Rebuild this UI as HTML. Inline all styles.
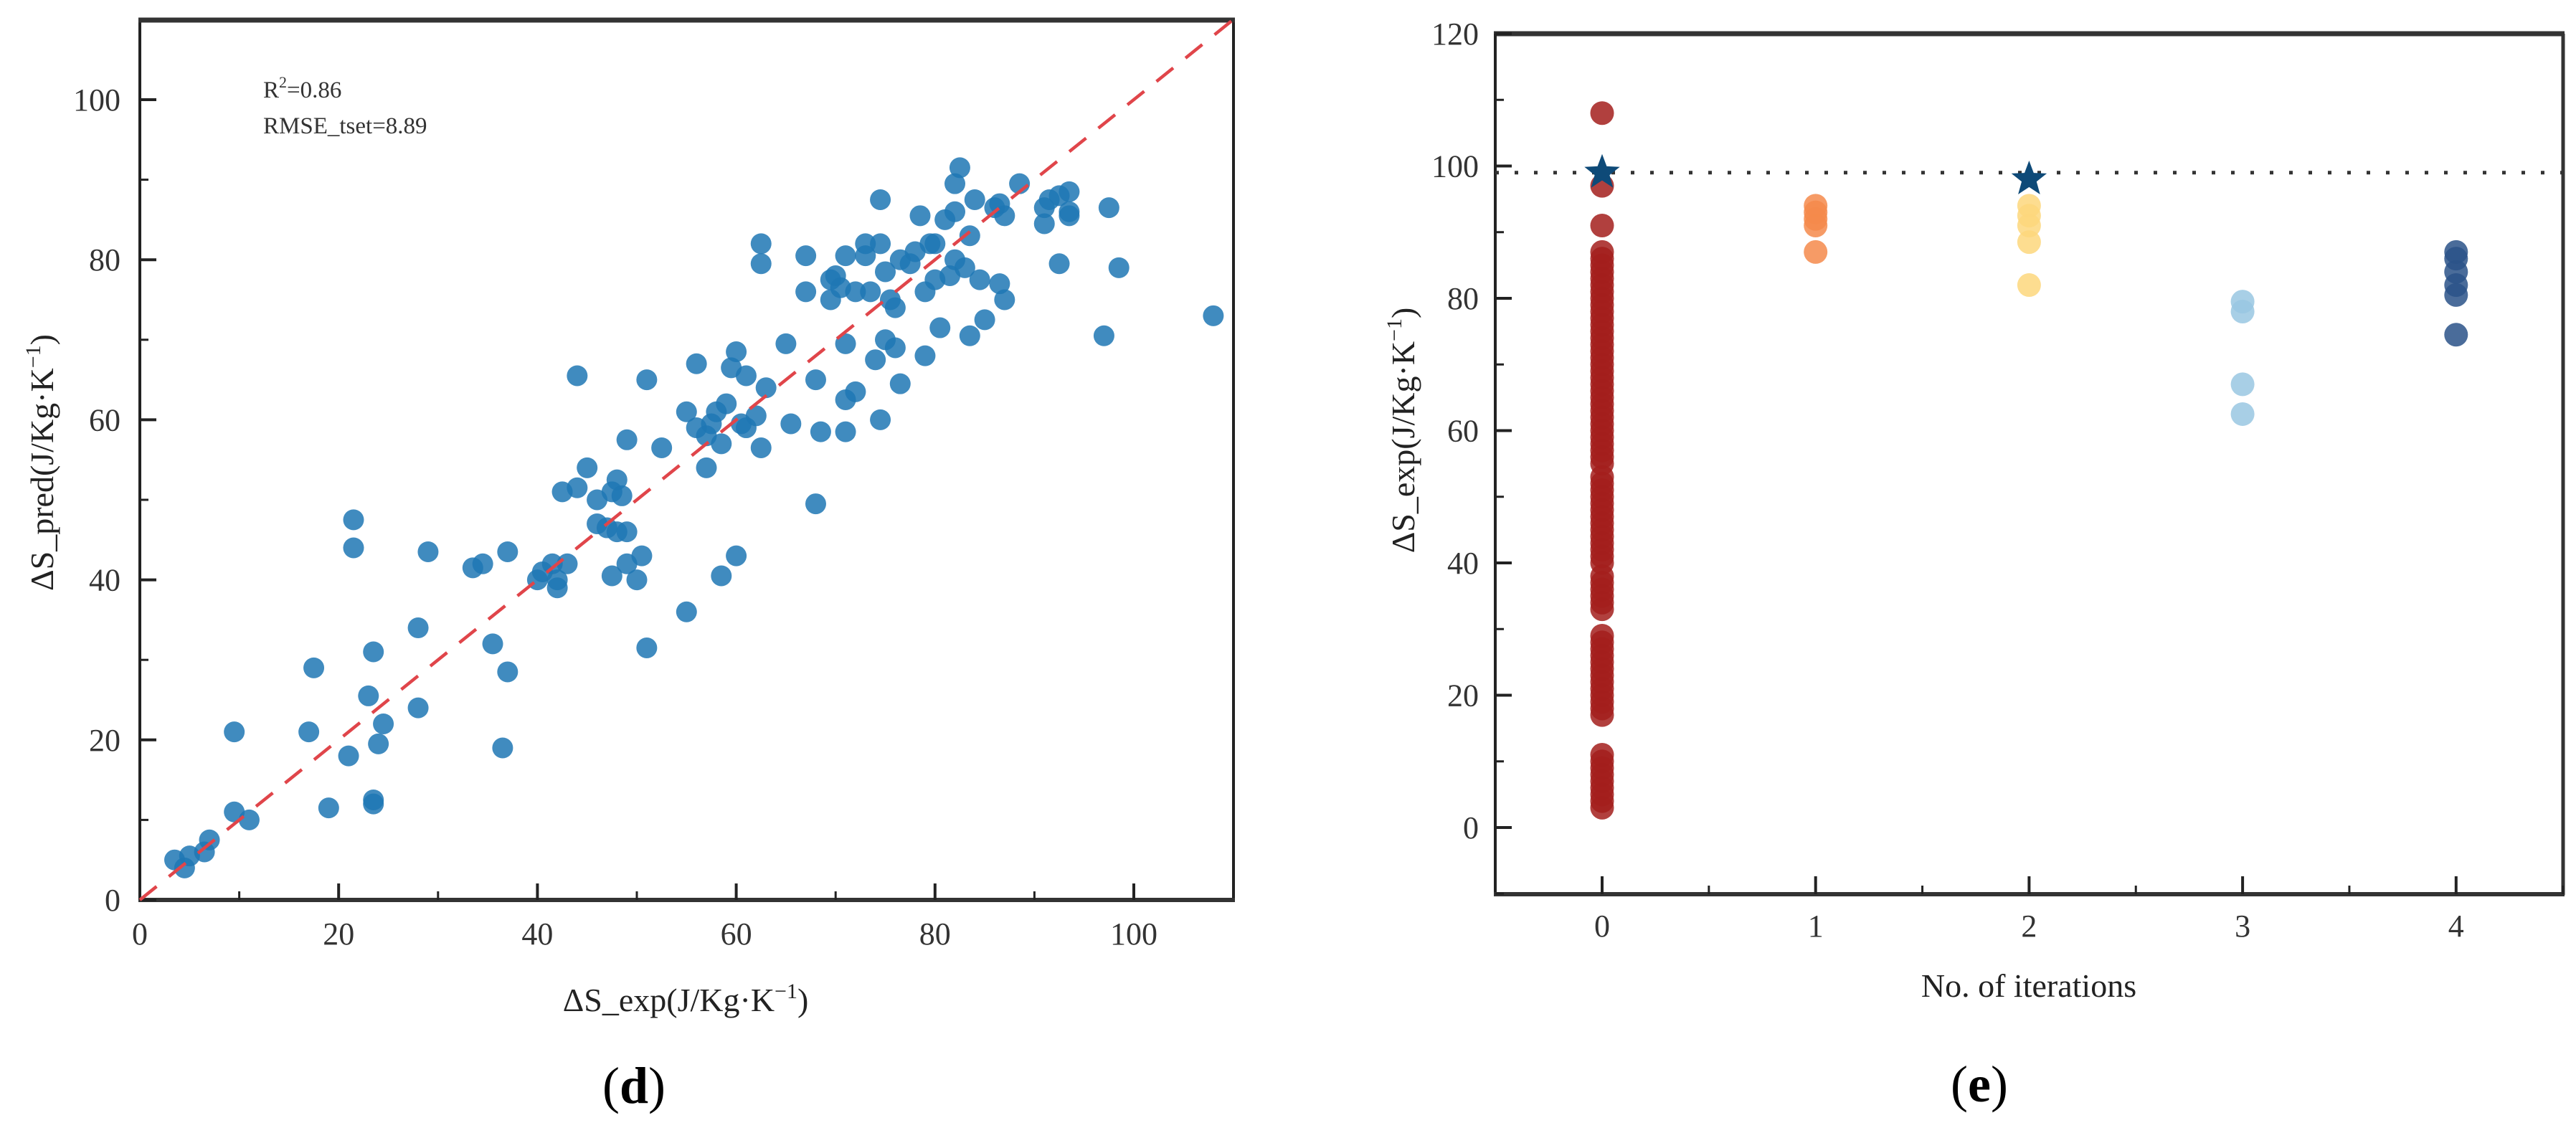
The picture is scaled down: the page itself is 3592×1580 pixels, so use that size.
<!DOCTYPE html>
<html><head><meta charset="utf-8"><style>
html,body{margin:0;padding:0;background:#fff;}
svg{display:block;font-family:"Liberation Serif",serif;}
</style></head><body>
<svg id="fig" width="3592" height="1580" viewBox="0 0 3592 1580" xmlns="http://www.w3.org/2000/svg">
<rect x="0" y="0" width="3592" height="1580" fill="#fff"/>
<g id="left"></g>
<g id="right"></g>
</svg>
<script>
// ---------- Panel d data ----------
const expVals = [3.5,4.5,5,6.5,7,9.5,9.5,11,17,17.5,19,21,21.5,21.5,23,23.5,23.5,23.5,24,24.5,28,28,29,33.5,34.5,35.5,36.5,37,37,40,40.5,41.5,42,42,42.5,43,44,44,45,46,46,47,47.5,47.5,48,48,48.5,49,49,49,50,50.5,51,51,52.5,55,55,56,56,57,57,57.5,58,58.5,58.5,59,59.5,60,60,60.5,61,61,62,62.5,62.5,62.5,63,65,65.5,67,67,68,68,68.5,69.5,69.5,70,70.5,71,71,71,71,72,72,73,73,73.5,74,74.5,74.5,74.5,75,75,75.5,76,76,76.5,76.5,77.5,78,78.5,79,79,79.5,80,80,80.5,81,81.5,82,82,82,82.5,83,83.5,83.5,84,84.5,85,86,86.5,86.5,87,87,88.5,91,91,91.5,92.5,92.5,93.5,93.5,93.5,97,97.5,98.5,108];
const predVals = [5,4,5.5,6,7.5,21,11,10,21,29,11.5,18,44,47.5,25.5,12.5,12,31,19.5,22,34,24,43.5,41.5,42,32,19,28.5,43.5,40,41,42,40,39,51,42,51.5,65.5,54,47,50,46.5,51,40.5,52.5,46,50.5,46,42,57.5,40,43,31.5,65,56.5,36,61,59,67,54,58,59.5,61,57,40.5,62,66.5,43,68.5,59.5,59,65.5,60.5,56.5,79.5,82,64,69.5,59.5,76,80.5,65,49.5,58.5,75,77.5,78,76.5,80.5,69.5,62.5,58.5,63.5,76,82,80.5,76,67.5,60,87.5,82,70,78.5,75,69,74,80,64.5,79.5,81,85.5,68,76,82,77.5,82,71.5,85,78,86,80,89.5,91.5,79,83,70.5,87.5,77.5,72.5,86.5,87,77,85.5,75,89.5,84.5,86.5,87.5,88,79.5,88.5,85.5,86,70.5,86.5,79,73];
const dTicks = [0,20,40,60,80,100];
const dMinor = [10,30,50,70,90];

// ---------- Panel e data ----------
const iterCats = [0,1,2,3,4];
const iter0 = [3,4,5,6,7,8,9,10,11,17,18,19,20,21,22,23,24,25,26,27,28,29,33,34,35,36,37,38,40,41,42,43,44,45,46,47,48,49,50,51,52,53,55,56,57,58,59,60,61,62,63,64,65,66,67,68,69,70,71,72,73,74,75,76,77,78,79,80,81,82,83,84,85,86,87,91,97,108];
const iter1 = [87,91,92,93,94];
const iter2 = [82,88.5,91,92.5,94];
const iter3 = [62.5,67,78,79.5];
const iter4 = [74.5,80.5,82,84,86,87];
const iterColors = ['#a31f1c','#f58a4b','#fdd77c','#99c7e2','#2a5288'];
const bestVals = [[0,99],[2,98]];
const refLine = 99;
const eTicks = [0,20,40,60,80,100,120];

const NS = 'http://www.w3.org/2000/svg';
function mk(parent, tag, attrs, text){
  const e = document.createElementNS(NS, tag);
  for (const k in attrs) e.setAttribute(k, attrs[k]);
  if (text !== undefined) e.textContent = text;
  parent.appendChild(e); return e;
}

// ----- Panel d -----
const L = document.getElementById('left');
const dx = v => 195 + v * 13.86;
const dy = v => 1255 - v * 11.16;
// frame
const fr = mk(L,'rect',{x:195,y:28,width:1525,height:1227,fill:'none',stroke:'#222','stroke-width':4});


let t = mk(L,'line',{x1:193,y1:28,x2:1722,y2:28,stroke:'#333','stroke-width':7});


t = mk(L,'line',{x1:193,y1:1255,x2:1722,y2:1255,stroke:'#333','stroke-width':6});


// ticks
dTicks.forEach(v=>{
  let a = mk(L,'line',{x1:dx(v),y1:1255,x2:dx(v),y2:1232,stroke:'#222','stroke-width':4});
  
  
  a = mk(L,'text',{x:dx(v),y:1317,'font-size':44,'text-anchor':'middle',fill:'#333'},String(v));
  
  
  a = mk(L,'line',{x1:195,y1:dy(v),x2:218,y2:dy(v),stroke:'#222','stroke-width':4});
  
  
  a = mk(L,'text',{x:168,y:dy(v)+15,'font-size':44,'text-anchor':'end',fill:'#333'},String(v));
  
  
});
dMinor.forEach(v=>{
  let a = mk(L,'line',{x1:dx(v),y1:1255,x2:dx(v),y2:1243,stroke:'#222','stroke-width':3});
  
  
  a = mk(L,'line',{x1:195,y1:dy(v),x2:207,y2:dy(v),stroke:'#222','stroke-width':3});
  
  
});
// points
expVals.forEach((v,i)=>{
  const c = mk(L,'circle',{cx:dx(v),cy:dy(predVals[i]),r:14.5,fill:'#1f77b4','fill-opacity':0.85});
  
  
});
// diagonal
t = mk(L,'line',{x1:dx(0),y1:dy(0),x2:dx(110),y2:dy(110),stroke:'#e0454a','stroke-width':4.5,'stroke-dasharray':'30 22'});


// annotations
t = mk(L,'text',{x:367,y:136,'font-size':33,fill:'#333'});
t.innerHTML = 'R<tspan font-size="22" dy="-14">2</tspan><tspan dy="14">=0.86</tspan>';


t = mk(L,'text',{x:367,y:186,'font-size':33,fill:'#333'},'RMSE_tset=8.89');


t = mk(L,'text',{x:956,y:1410,'font-size':46,'text-anchor':'middle',fill:'#222'});
t.innerHTML = 'ΔS_exp(J/Kg·K<tspan font-size="30" dy="-18">−1</tspan><tspan dy="18">)</tspan>';


t = mk(L,'text',{x:0,y:0,'font-size':46,'text-anchor':'middle',fill:'#222',transform:'translate(74,645) rotate(-90)'});
t.innerHTML = 'ΔS_pred(J/Kg·K<tspan font-size="30" dy="-18">−1</tspan><tspan dy="18">)</tspan>';


t = mk(L,'text',{x:884,y:1538,'font-size':72,'text-anchor':'middle',fill:'#000'});
t.innerHTML = '(<tspan font-weight="bold">d</tspan>)';



// ----- Panel e -----
const R = document.getElementById('right');
const ex = v => 2234 + v * 297.7;
const ey = v => 1154 - v * 9.225;
t = mk(R,'line',{x1:2083,y1:47,x2:3576,y2:47,stroke:'#333','stroke-width':7});


t = mk(R,'line',{x1:3574,y1:47,x2:3574,y2:1248,stroke:'#333','stroke-width':5});


t = mk(R,'line',{x1:2085,y1:47,x2:2085,y2:1248,stroke:'#222','stroke-width':4});


t = mk(R,'line',{x1:2083,y1:1247,x2:3576,y2:1247,stroke:'#333','stroke-width':6});


eTicks.forEach(v=>{
  let a = mk(R,'line',{x1:2085,y1:ey(v),x2:2108,y2:ey(v),stroke:'#222','stroke-width':4});
  
  
  a = mk(R,'line',{x1:2085,y1:ey(v-10),x2:2097,y2:ey(v-10),stroke:'#222','stroke-width':3});
  
  
  a = mk(R,'text',{x:2062,y:ey(v)+15,'font-size':44,'text-anchor':'end',fill:'#333'},String(v));
  
  
});
iterCats.forEach(c=>{
  let a = mk(R,'line',{x1:ex(c),y1:1247,x2:ex(c),y2:1222,stroke:'#222','stroke-width':4});
  
  
  a = mk(R,'line',{x1:ex(c+0.5),y1:1247,x2:ex(c+0.5),y2:1235,stroke:'#222','stroke-width':3});
  
  
  a = mk(R,'text',{x:ex(c),y:1306,'font-size':44,'text-anchor':'middle',fill:'#333'},String(c));
  
  
});
[iter0,iter1,iter2,iter3,iter4].forEach((arr,ci)=>{
  arr.forEach(v=>{
    const c = mk(R,'circle',{cx:ex(iterCats[ci]),cy:ey(v),r:16.5,fill:iterColors[ci],'fill-opacity':0.85});
    
    
  });
});
t = mk(R,'line',{x1:2085,y1:ey(refLine),x2:3574,y2:ey(refLine),stroke:'#333','stroke-width':5,'stroke-dasharray':'5 22'});


function starPath(cx,cy,r){
  let p='';
  for(let i=0;i<10;i++){
    const rr = i%2===0 ? r : r*0.42;
    const a = -Math.PI/2 + i*Math.PI/5;
    p += (i?'L':'M') + (cx+rr*Math.cos(a)).toFixed(1) + ',' + (cy+rr*Math.sin(a)).toFixed(1);
  }
  return p+'Z';
}
bestVals.forEach(b=>{
  const s = mk(R,'path',{d:starPath(ex(b[0]),ey(b[1]),26),fill:'#0e4a78'});
  
  
});
t = mk(R,'text',{x:2829,y:1390,'font-size':46,'text-anchor':'middle',fill:'#222'},'No. of iterations');


t = mk(R,'text',{x:0,y:0,'font-size':46,'text-anchor':'middle',fill:'#222',transform:'translate(1972,600) rotate(-90)'});
t.innerHTML = 'ΔS_exp(J/Kg·K<tspan font-size="30" dy="-18">−1</tspan><tspan dy="18">)</tspan>';


t = mk(R,'text',{x:2760,y:1536,'font-size':72,'text-anchor':'middle',fill:'#000'});
t.innerHTML = '(<tspan font-weight="bold">e</tspan>)';


</script>
</body></html>
